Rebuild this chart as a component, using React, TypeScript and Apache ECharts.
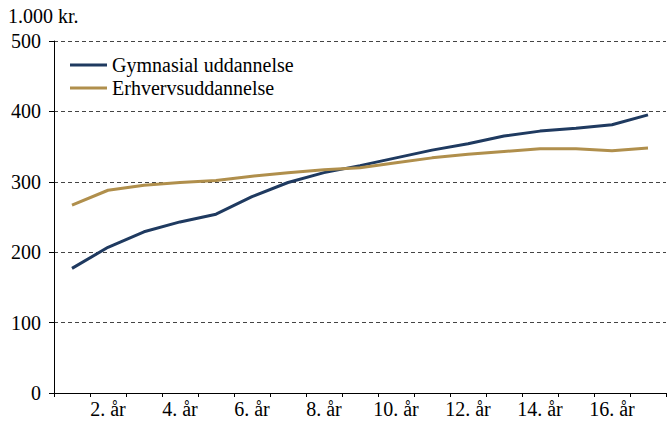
import React, { useEffect, useRef } from "react";
import * as echarts from "echarts";

const categories = ["1. år","2. år","3. år","4. år","5. år","6. år","7. år","8. år","9. år","10. år","11. år","12. år","13. år","14. år","15. år","16. år","17. år"];
const gymnasial = [177, 207, 229, 243, 254, 279, 299, 313, 323, 334, 345, 354, 365, 372, 376, 381, 395];
const erhverv = [267, 288, 295, 299, 302, 308, 313, 317, 320, 327, 334, 339, 343, 347, 347, 344, 348];
const yTicks = [0, 100, 200, 300, 400, 500];
const seriesNames = ["Gymnasial uddannelse", "Erhvervsuddannelse"];
const unitLabel = "1.000 kr.";

export default function App() {
  const ref = useRef<HTMLDivElement>(null);
  useEffect(() => {
    if (!ref.current) return;
    const chart = echarts.init(ref.current, null, { renderer: "svg" });
    const font = "'Liberation Serif', 'Times New Roman', serif";
    const fs = 20;
    chart.setOption({
      animation: false,
      textStyle: { fontFamily: font },
      graphic: [
        { type: "text", left: 8, top: 6, style: { text: unitLabel, fontFamily: font, fontSize: fs, fill: "#000" } },
      ],
      legend: {
        orient: "vertical",
        left: 65,
        top: 50,
        itemGap: 3,
        itemWidth: 37,
        itemHeight: 3,
        icon: "rect",
        textStyle: { fontFamily: font, fontSize: fs, color: "#000" },
        data: seriesNames,
      },
      grid: { left: 54, right: 3, top: 41, bottom: 30, containLabel: false },
      xAxis: {
        type: "category",
        data: categories,
        boundaryGap: true,
        axisLine: { lineStyle: { color: "#000", width: 1 } },
        axisTick: { show: true, interval: 0, length: 4, lineStyle: { color: "#000" } },
        axisLabel: {
          interval: (i: number) => i % 2 === 1,
          fontFamily: font,
          fontSize: fs,
          color: "#000",
          margin: 6,
        },
      },
      yAxis: {
        type: "value",
        min: yTicks[0],
        max: yTicks[yTicks.length - 1],
        interval: 100,
        axisLine: { show: true, lineStyle: { color: "#000", width: 1 } },
        axisTick: { show: true, length: 5, lineStyle: { color: "#000" } },
        axisLabel: { fontFamily: font, fontSize: fs, color: "#000", margin: 13 },
        splitLine: { show: true, lineStyle: { color: "#444", type: [4, 3], width: 1 } },
      },
      series: [
        {
          name: seriesNames[0],
          type: "line",
          data: gymnasial,
          symbol: "none",
          lineStyle: { color: "#1f3a60", width: 3 },
          itemStyle: { color: "#1f3a60" },
        },
        {
          name: seriesNames[1],
          type: "line",
          data: erhverv,
          symbol: "none",
          lineStyle: { color: "#b08f4c", width: 3 },
          itemStyle: { color: "#b08f4c" },
        },
      ],
    });
    return () => chart.dispose();
  }, []);
  return <div ref={ref} style={{ width: 669, height: 423, position: "absolute", left: 0, top: 0 }} />;
}
